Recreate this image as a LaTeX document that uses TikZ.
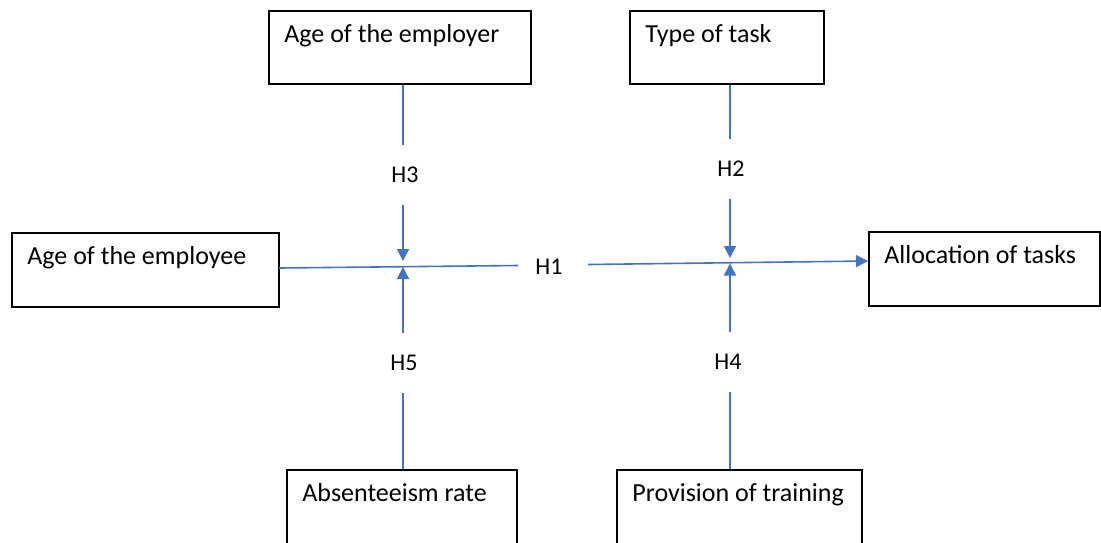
\documentclass[tikz,border=0pt]{standalone}
\usepackage{fontspec}
\setmainfont{Carlito}
\usetikzlibrary{arrows.meta,calc}
\definecolor{lineblue}{HTML}{4472C4}
\begin{document}
\begin{tikzpicture}[x=1pt,y=-1pt,
  box/.style={draw=black,line width=1.6pt,rectangle,inner sep=0pt},
  boxtext/.style={anchor=base west,font=\fontsize{26}{31}\selectfont,inner sep=0pt},
  hyp/.style={font=\fontsize{24}{29}\selectfont,minimum width=60pt,minimum height=60pt,inner sep=0pt},
  link/.style={draw=lineblue,line width=1.6pt},
  arr/.style={link,-{Triangle[length=12pt,width=12pt]}}]
\clip (0,0) rectangle (1101,542);
% boxes
\node[box,minimum width=262pt,minimum height=73pt] (employer) at (400,47.5) {};
\node[box,minimum width=194pt,minimum height=73pt] (tasktype) at (727,47.5) {};
\node[box,minimum width=267pt,minimum height=74pt] (employee) at (145.5,270) {};
\node[box,minimum width=231pt,minimum height=74pt] (allocation) at (984.5,269) {};
\node[box,minimum width=230pt,minimum height=110pt] (absent) at (402,525) {};
\node[box,minimum width=245pt,minimum height=110pt] (training) at (739.5,525) {};
% box texts
\node[boxtext] (t1) at ($(employer.north west)+(16,32)$) {Age of the employer};
\node[boxtext] (t2) at ($(tasktype.north west)+(16,32)$) {Type of task};
\node[boxtext] (t3) at ($(employee.north west)+(16,32)$) {Age of the employee};
\node[boxtext] (t4) at ($(allocation.north west)+(16,32)$) {Allocation of tasks};
\node[boxtext] (t5) at ($(absent.north west)+(16,32)$) {Absenteeism rate};
\node[boxtext] (t6) at ($(training.north west)+(16,32)$) {Provision of training};
% hypothesis labels
\node[hyp] (h3) at (405,175) {H3};
\node[hyp] (h2) at (731,169) {H2};
\node[hyp] (h5) at (404,363) {H5};
\node[hyp] (h4) at (728,362) {H4};
\node[hyp] (h1) at (549,267) {H1};
% coordinates
\coordinate (c1top) at (403,261);
\coordinate (c1bot) at (403,267);
\coordinate (c2top) at (730,258);
\coordinate (c2bot) at (730,263.5);
\coordinate (hstart) at (279,268);
\coordinate (hl) at (518,265.5);
\coordinate (hr) at (588,264.5);
\coordinate (hend) at (868,261);
% connectors
\draw[link] (hstart) -- (hl);
\draw[arr] (hr) -- (hend);
\draw[link] (employer.south -| c1top) -- (h3.north -| c1top);
\draw[arr] (h3.south -| c1top) -- (c1top);
\draw[link] (absent.north -| c1bot) -- (h5.south -| c1bot);
\draw[arr] (h5.north -| c1bot) -- (c1bot);
\draw[link] (tasktype.south -| c2top) -- (h2.north -| c2top);
\draw[arr] (h2.south -| c2top) -- (c2top);
\draw[link] (training.north -| c2bot) -- (h4.south -| c2bot);
\draw[arr] (h4.north -| c2bot) -- (c2bot);
\end{tikzpicture}
\end{document}
